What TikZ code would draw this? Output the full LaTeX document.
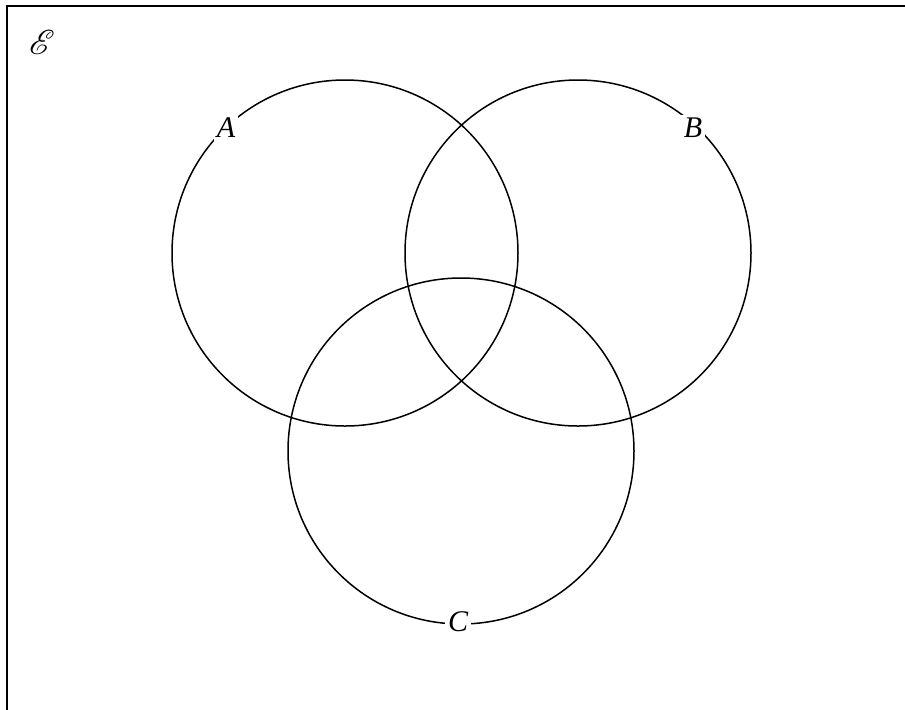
\documentclass[tikz,border=0pt]{standalone}
\usepackage{fontspec}
\setmainfont{Liberation Serif}
\usepackage{mathrsfs}
\usetikzlibrary{positioning}
\tikzset{
  setcircle/.style={circle, draw=black, line width=0.75pt, minimum size=173pt,
                    inner sep=0pt, outer sep=0pt},
  setlabel/.style={fill=white, inner sep=1.5pt, font=\fontsize{15}{17}\selectfont\itshape},
  frame/.style={draw=black, line width=1.4pt},
}

\begin{document}
\begin{tikzpicture}[x=0.5pt, y=-0.5pt]
  \useasboundingbox (0,0) rectangle (905,709);
  \clip (0,0) rectangle (905,709);
  % Universal set
  \draw[frame] (7,6) rectangle (980,780);
  \node[font=\fontsize{19}{21}\selectfont] (univ) at (42,42) {$\mathscr{E}$};

  % Sets
  \node[setcircle] (circA) at (345,253) {};
  \node[setcircle] (circB) at (578,253) {};
  \node[setcircle] (circC) at (461,451) {};

  % Labels
  \node[setlabel] (labA) at (226,128) {A};
  \node[setlabel] (labB) at (693,128) {B};
  \node[setlabel] (labC) at (458,622) {C};
\end{tikzpicture}
\end{document}
